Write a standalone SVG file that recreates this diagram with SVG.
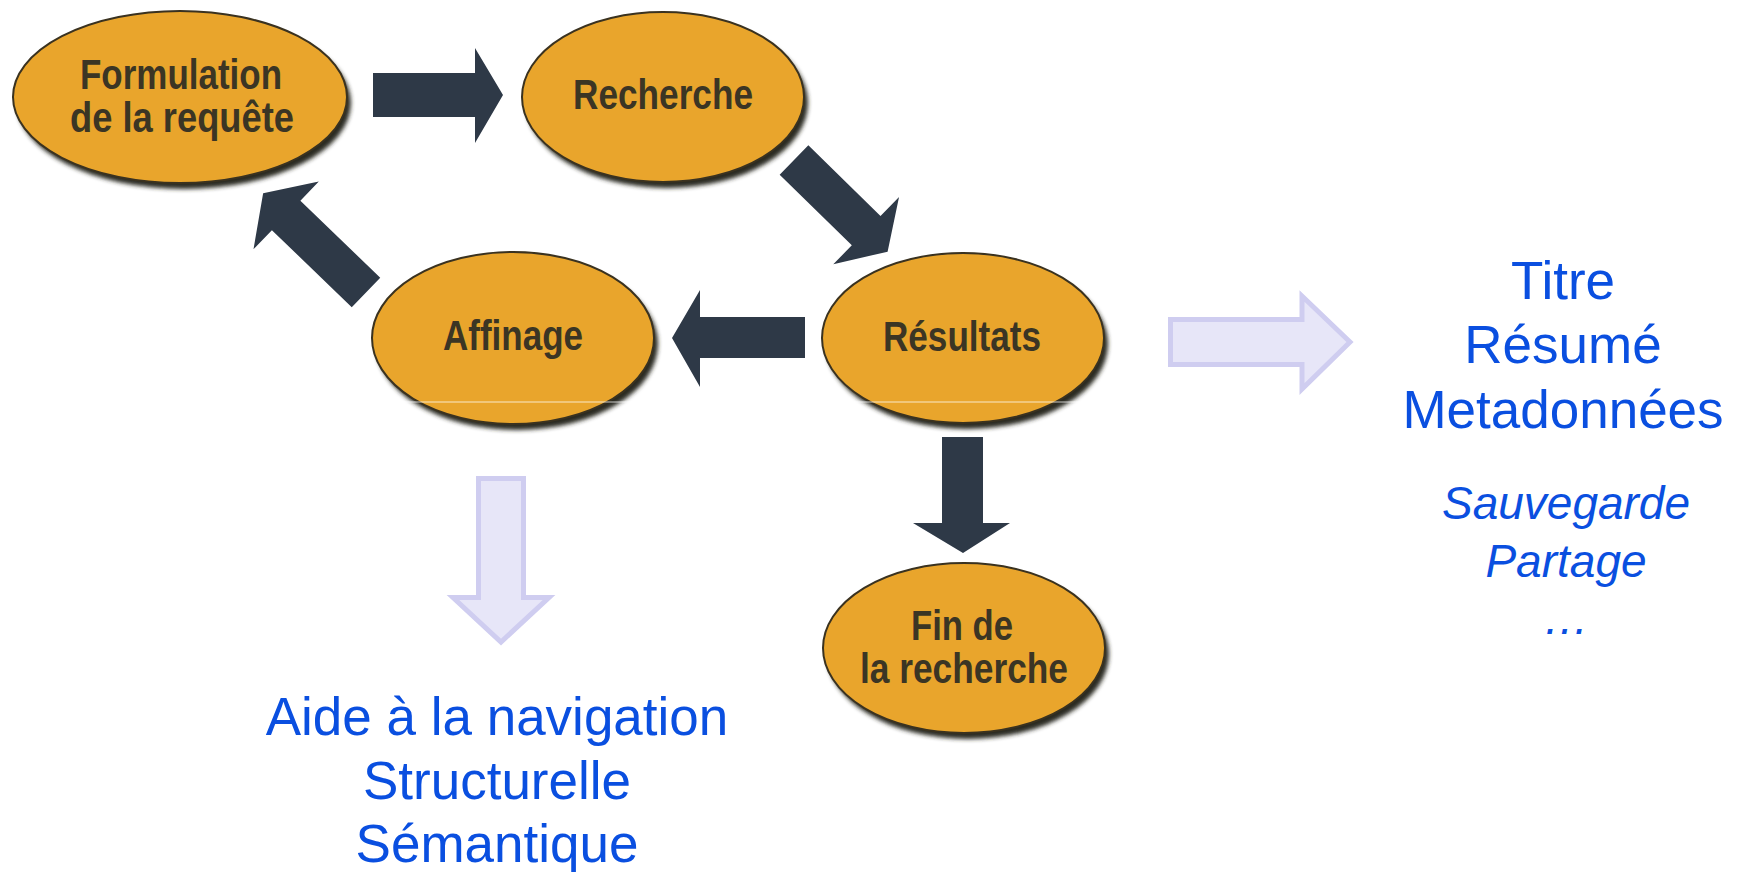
<svg xmlns="http://www.w3.org/2000/svg" width="1737" height="872" viewBox="0 0 1737 872">
<defs>
<filter id="blur" x="-10%" y="-10%" width="120%" height="120%"><feGaussianBlur stdDeviation="2"/></filter>
<style>
.shadow{fill:#2a2a22;filter:url(#blur)}
.node{fill:#e9a52c;stroke:#3a3220;stroke-width:2}
.lbl{font-family:"Liberation Sans Narrow","Liberation Sans",Arial,sans-serif;font-weight:bold;font-size:42px;fill:#3b3524;text-anchor:middle}
.arrow{fill:#2e3947}
.pale{fill:#e7e6f8;stroke:#cfcdf0;stroke-width:5;stroke-linejoin:miter}
.blue{font-family:"Liberation Sans",Arial,sans-serif;font-size:53px;fill:#0a4fe0;text-anchor:middle}
.blueit{font-family:"Liberation Sans",Arial,sans-serif;font-size:46px;font-style:italic;fill:#0a4fe0;text-anchor:middle}
</style>
</defs>
<rect width="1737" height="872" fill="#ffffff"/>

<g id="connectors">
<polygon class="arrow" points="373,73 475,73 475,48 503,95 475,143 475,117 373,117"/>
<polygon class="arrow" transform="translate(794,160) rotate(44.4)" points="0,-20.5 101,-20.5 101,-47 131,0 101,47 101,20.5 0,20.5"/>
<polygon class="arrow" points="805,317 700,317 700,290 672,338 700,387 700,358 805,358"/>
<polygon class="arrow" transform="translate(366,292.5) rotate(224)" points="0,-20.5 111,-20.5 111,-47 143,0 111,47 111,20.5 0,20.5"/>
<polygon class="arrow" points="942,437 983,437 983,523 1010,523 963,553 913,523 942,523"/>
<polygon class="pale" points="1170.5,319.5 1302,319.5 1302,296 1350,342 1302,389 1302,364.5 1170.5,364.5"/>
<polygon class="pale" points="478.5,478.5 523.5,478.5 523.5,597.5 549,597.5 501,642 453,597.5 478.5,597.5"/>
</g>

<g id="n-formulation">
<ellipse class="shadow" cx="184" cy="103" rx="167" ry="86"/>
<ellipse class="node" cx="180" cy="97" rx="167" ry="86"/>
<text class="lbl" x="181" y="89" textLength="202" lengthAdjust="spacingAndGlyphs">Formulation</text>
<text class="lbl" x="182" y="132" textLength="224" lengthAdjust="spacingAndGlyphs">de la requête</text>
</g>

<g id="n-recherche">
<ellipse class="shadow" cx="667" cy="103" rx="141" ry="85"/>
<ellipse class="node" cx="663" cy="97" rx="141" ry="85"/>
<text class="lbl" x="663" y="109" textLength="180" lengthAdjust="spacingAndGlyphs">Recherche</text>
</g>

<g id="n-resultats">
<ellipse class="shadow" cx="967" cy="344" rx="141" ry="85"/>
<ellipse class="node" cx="963" cy="338" rx="141" ry="85"/>
<text class="lbl" x="962" y="351" textLength="158" lengthAdjust="spacingAndGlyphs">Résultats</text>
</g>

<g id="n-affinage">
<ellipse class="shadow" cx="517" cy="344" rx="141" ry="86"/>
<ellipse class="node" cx="513" cy="338" rx="141" ry="86"/>
<text class="lbl" x="513" y="350" textLength="140" lengthAdjust="spacingAndGlyphs">Affinage</text>
</g>

<g id="n-fin">
<ellipse class="shadow" cx="968" cy="654" rx="141" ry="85"/>
<ellipse class="node" cx="964" cy="648" rx="141" ry="85"/>
<text class="lbl" x="962" y="640" textLength="102" lengthAdjust="spacingAndGlyphs">Fin de</text>
<text class="lbl" x="964" y="683" textLength="208" lengthAdjust="spacingAndGlyphs">la recherche</text>
</g>

<line x1="370" y1="402" x2="1110" y2="402" stroke="#ffffff" stroke-width="1" opacity="0.75"/>

<g id="t-right">
<text class="blue" x="1563" y="299">Titre</text>
<text class="blue" x="1563" y="363">Résumé</text>
<text class="blue" x="1563" y="428">Metadonnées</text>
<text class="blueit" x="1566" y="519">Sauvegarde</text>
<text class="blueit" x="1566" y="577">Partage</text>
<text class="blueit" x="1566" y="634">…</text>
</g>

<g id="t-left">
<text class="blue" x="497" y="735">Aide à la navigation</text>
<text class="blue" x="497" y="799">Structurelle</text>
<text class="blue" x="497" y="862">Sémantique</text>
</g>
</svg>
